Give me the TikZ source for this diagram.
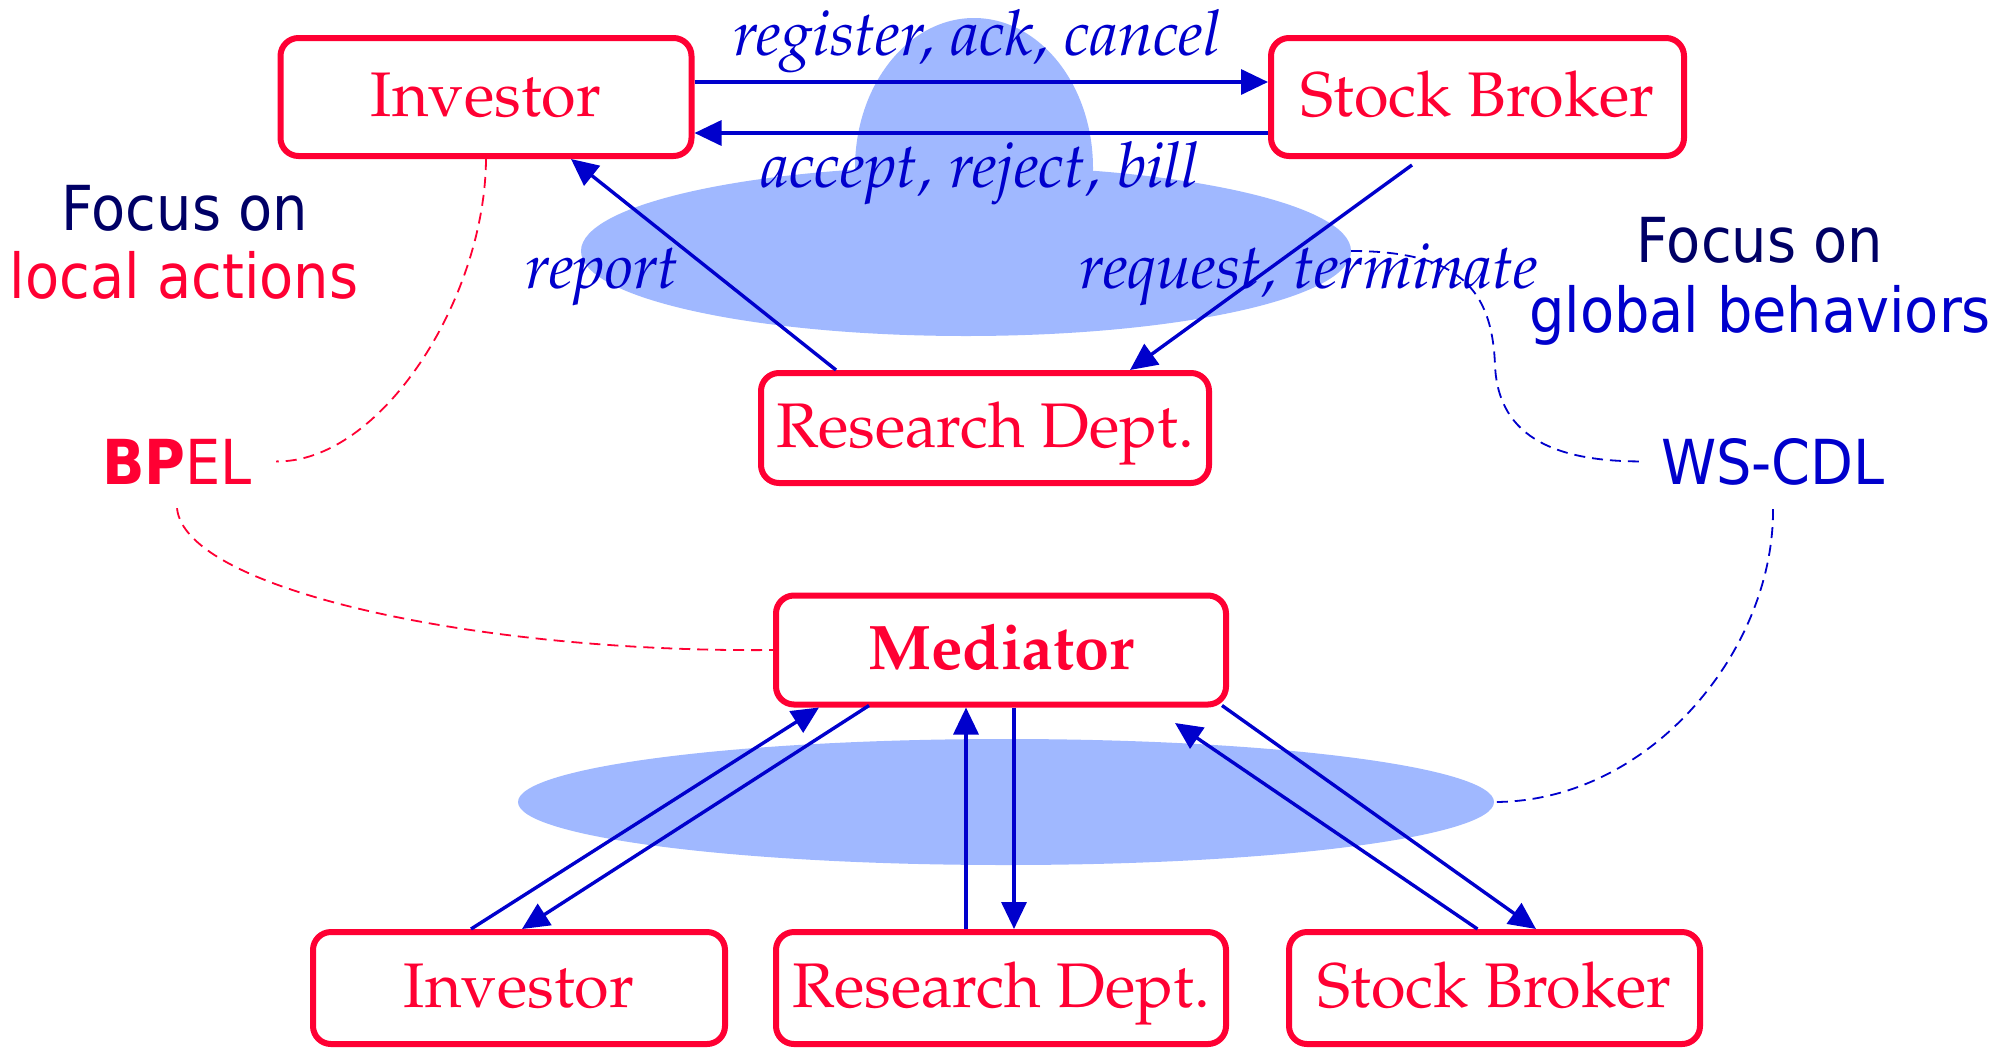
\documentclass[tikz,border=0pt]{standalone}
\usepackage{fontspec}
\usetikzlibrary{arrows.meta,shapes.geometric}
\newfontfamily\uisans{DejaVu Sans}[FakeStretch=0.9]
\newcommand\palfont{\fontencoding{OT1}\fontfamily{ppl}\selectfont}
\definecolor{boxred}{RGB}{255,0,51}
\definecolor{msgblue}{RGB}{0,0,204}
\definecolor{navy}{RGB}{0,0,102}
\definecolor{choreo}{RGB}{160,184,255}
\tikzset{
  agent/.style={draw=boxred, line width=6pt, rounded corners=18pt, fill=white,
    text=boxred, inner sep=0pt, text height=44pt, text depth=6pt,
    font=\palfont\fontsize{63}{70}\selectfont},
  msg/.style={draw=msgblue, line width=3.4pt, -{Triangle[length=27pt,width=25pt]}},
  msglabel/.style={text=msgblue, inner sep=0pt, anchor=base,
    font=\palfont\itshape\fontsize{63}{70}\selectfont},
  chor/.style={ellipse, fill=choreo, inner sep=0pt, outer sep=0pt},
  link/.style={line width=1.8pt, dash pattern=on 11pt off 7pt},
  note/.style={inner sep=0pt, anchor=base, font=\uisans\fontsize{62}{70}\selectfont},
}
\begin{document}
\begin{tikzpicture}[x=1pt, y=-1pt]
\useasboundingbox (0,0) rectangle (2007,1050);

% choreography areas
\node[chor, minimum width=770pt, minimum height=170pt] (chor1) at (966,251) {};
\node[chor, minimum width=238pt, minimum height=300pt] (dome) at (974,168) {};
\node[chor, minimum width=976pt, minimum height=126pt] (chor2) at (1006,802) {};

% upper model: peer-to-peer interaction
\node[agent, minimum width=411pt, minimum height=118pt] (inv1) at (486,97) {Investor};
\node[agent, minimum width=413pt, minimum height=118pt] (sb1) at (1477.5,97) {Stock Broker};
\node[agent, minimum width=448pt, minimum height=110pt] (rd1) at (985,428) {Research Dept.};

\draw[msg] ([yshift=15pt]inv1.east) -- ([yshift=15pt]sb1.west);
\draw[msg] ([yshift=-36pt]sb1.west) -- ([yshift=-36pt]inv1.east);
\draw[msg] ([xshift=-149pt]rd1.north) -- ([xshift=85pt]inv1.south);
\draw[msg] ([xshift=-65.5pt,yshift=-6pt]sb1.south) -- ([xshift=145pt]rd1.north);

\node[msglabel] (lreg) at (977,55) {register, ack, cancel};
\node[msglabel] (lacc) at (980,187) {accept, reject, bill};
\node[msglabel] (lrep) at (602,288) {report};
\node[msglabel] (lreq) at (1309,288) {request, terminate};

% lower model: mediated interaction
\node[agent, minimum width=450pt, minimum height=109pt, font=\palfont\bfseries\fontsize{63}{70}\selectfont] (med) at (1001,650) {Mediator};
\node[agent, minimum width=412pt, minimum height=112pt] (inv2) at (519,988) {Investor};
\node[agent, minimum width=450pt, minimum height=112pt] (rd2) at (1001,988) {Research Dept.};
\node[agent, minimum width=411pt, minimum height=112pt] (sb2) at (1494.5,988) {Stock Broker};

\draw[msg] ([xshift=-48pt]inv2.north) -- ([xshift=-182pt]med.south);
\draw[msg] ([xshift=-132pt,yshift=2pt]med.south) -- ([xshift=3pt]inv2.north);
\draw[msg] ([xshift=-35pt]rd2.north) -- ([xshift=-35pt]med.south);
\draw[msg] ([xshift=13pt]med.south) -- ([xshift=13pt]rd2.north);
\draw[msg] ([xshift=-17pt]sb2.north) -- ([xshift=174pt,yshift=-15.5pt]med.south);
\draw[msg] ([xshift=221pt,yshift=2pt]med.south) -- ([xshift=41.5pt]sb2.north);

% side notes
\node[note, text=navy] (fl1) at (185,230) {Focus on};
\node[note, text=boxred] (fl2) at (184,298) {local actions};
\node[note, text=boxred] (bpel) at (177,484) {{\bfseries BP}EL};
\node[note, text=navy] (fr1) at (1760,262) {Focus on};
\node[note, text=msgblue] (fr2) at (1760,332) {global behaviors};
\node[note, text=msgblue] (ws) at (1773,484) {WS-CDL};

% dashed links from languages to models
\draw[link, boxred] (inv1.south) .. controls (485,300) and (380,463) .. ([xshift=24pt]bpel.east);
\draw[link, boxred] ([yshift=-24pt]bpel.south) .. controls (185,590) and (480,653) .. (med.west);
\draw[link, msgblue] (chor1.east) .. controls (1460,251) and (1492,290) .. (1495,365)
  .. controls (1498,440) and (1560,462) .. ([xshift=-16pt]ws.west);
\draw[link, msgblue] ([yshift=-24pt]ws.south) .. controls (1774,650) and (1650,802) .. (chor2.east);
\end{tikzpicture}
\end{document}
